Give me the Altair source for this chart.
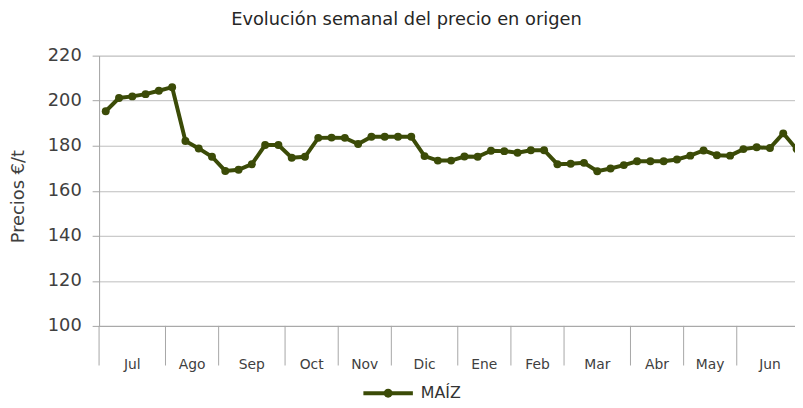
import altair as alt
import pandas as pd

# ---- data ----
weeks = list(range(1, 54))
prices = [195.3, 201.2, 201.9, 202.9, 204.4, 206.0, 182.1, 178.8, 175.1, 168.8,
          169.3, 171.8, 180.3, 180.3, 174.7, 175.1, 183.5, 183.6, 183.5, 180.8,
          184.0, 184.0, 184.0, 184.0, 175.4, 173.4, 173.4, 175.2, 175.1, 177.8,
          177.6, 176.9, 178.0, 178.0, 171.8, 172.0, 172.4, 168.7, 169.9, 171.4,
          173.1, 173.1, 173.1, 173.9, 175.6, 177.9, 175.8, 175.6, 178.5, 179.3,
          179.0, 185.5, 178.5]
months = ["Jul", "Ago", "Sep", "Oct", "Nov", "Dic", "Ene", "Feb", "Mar", "Abr", "May", "Jun"]
weeks_per_month = [5, 4, 5, 4, 4, 5, 4, 4, 5, 4, 4, 5]
series_name = "MAÍZ"
y_ticks = [100, 120, 140, 160, 180, 200, 220]

# ---- tables ----
df = pd.DataFrame({"semana": weeks, "precio": prices})
df["pos"] = df["semana"] - 0.5

starts = []
acc = 0
for n in weeks_per_month:
    starts.append(acc)
    acc += n
mdf = pd.DataFrame({
    "mes": months,
    "inicio": starts,
    "centro": [s + n / 2 for s, n in zip(starts, weeks_per_month)],
})

COLOR = "#3b4b07"
FONT = "DejaVu Sans"
W, H = 703, 273
STEP = 13.42
xmax = W / STEP

xscale = alt.Scale(domain=[0, xmax], nice=False, zero=False)
yscale = alt.Scale(domain=[100, 220], nice=False, zero=False)

base = alt.Chart(df)

line = base.mark_line(color=COLOR, strokeWidth=4).encode(
    x=alt.X("pos:Q", scale=xscale,
            axis=alt.Axis(title=None, labels=False, ticks=False, grid=False,
                          domain=True, domainColor="#a6a6a6", domainWidth=1)),
    y=alt.Y("precio:Q", scale=yscale,
            axis=alt.Axis(title="Precios €/t", values=y_ticks, grid=True,
                          gridColor="#bdbdbd", gridWidth=1,
                          domainColor="#a6a6a6", tickColor="#a6a6a6",
                          tickSize=7, labelPadding=11, labelFontSize=18,
                          labelFont=FONT, labelColor="#404040",
                          titleFont=FONT, titleFontSize=18, titleColor="#404040",
                          titleFontWeight="normal", titleAngle=270,
                          titleX=-81, titleY=142, titleAlign="center",
                          titleBaseline="middle")),
)

points = base.mark_point(filled=True, color=COLOR, size=64, opacity=1).encode(
    x=alt.X("pos:Q", scale=xscale),
    y=alt.Y("precio:Q", scale=yscale),
)

ticks = alt.Chart(mdf).mark_rule(color="#a6a6a6", strokeWidth=1).encode(
    x=alt.X("inicio:Q", scale=xscale),
    y=alt.value(H),
    y2=alt.value(H + 40),
)

labels = alt.Chart(mdf).mark_text(font=FONT, fontSize=14, color="#404040",
                                  baseline="middle", align="center").encode(
    x=alt.X("centro:Q", scale=xscale),
    y=alt.value(H + 40),
    text="mes:N",
)

leg_df = pd.DataFrame({"serie": [series_name]})
leg_line = alt.Chart(leg_df).mark_rule(color=COLOR, strokeWidth=4).encode(
    x=alt.value(267), x2=alt.value(317), y=alt.value(341))
leg_pt = alt.Chart(leg_df).mark_point(filled=True, color=COLOR, size=80, opacity=1).encode(
    x=alt.value(292), y=alt.value(341))
leg_txt = alt.Chart(leg_df).mark_text(font=FONT, fontSize=16, color="#333333",
                                      align="left", baseline="middle").encode(
    x=alt.value(325), y=alt.value(341), text="serie:N")

chart = alt.layer(line, points, ticks, labels, leg_line, leg_pt, leg_txt).properties(
    width=W, height=H,
    title=alt.TitleParams("Evolución semanal del precio en origen", font=FONT,
                          fontSize=18, fontWeight="normal", color="#262626",
                          anchor="middle", dx=-41, offset=18),
    autosize=alt.AutoSizeParams(type="none"),
    padding={"left": 92, "top": 46, "right": 0, "bottom": 100},
).configure_view(stroke=None).configure(background="white")

chart.save("out.html", embed_options={"renderer": "svg", "actions": False})
